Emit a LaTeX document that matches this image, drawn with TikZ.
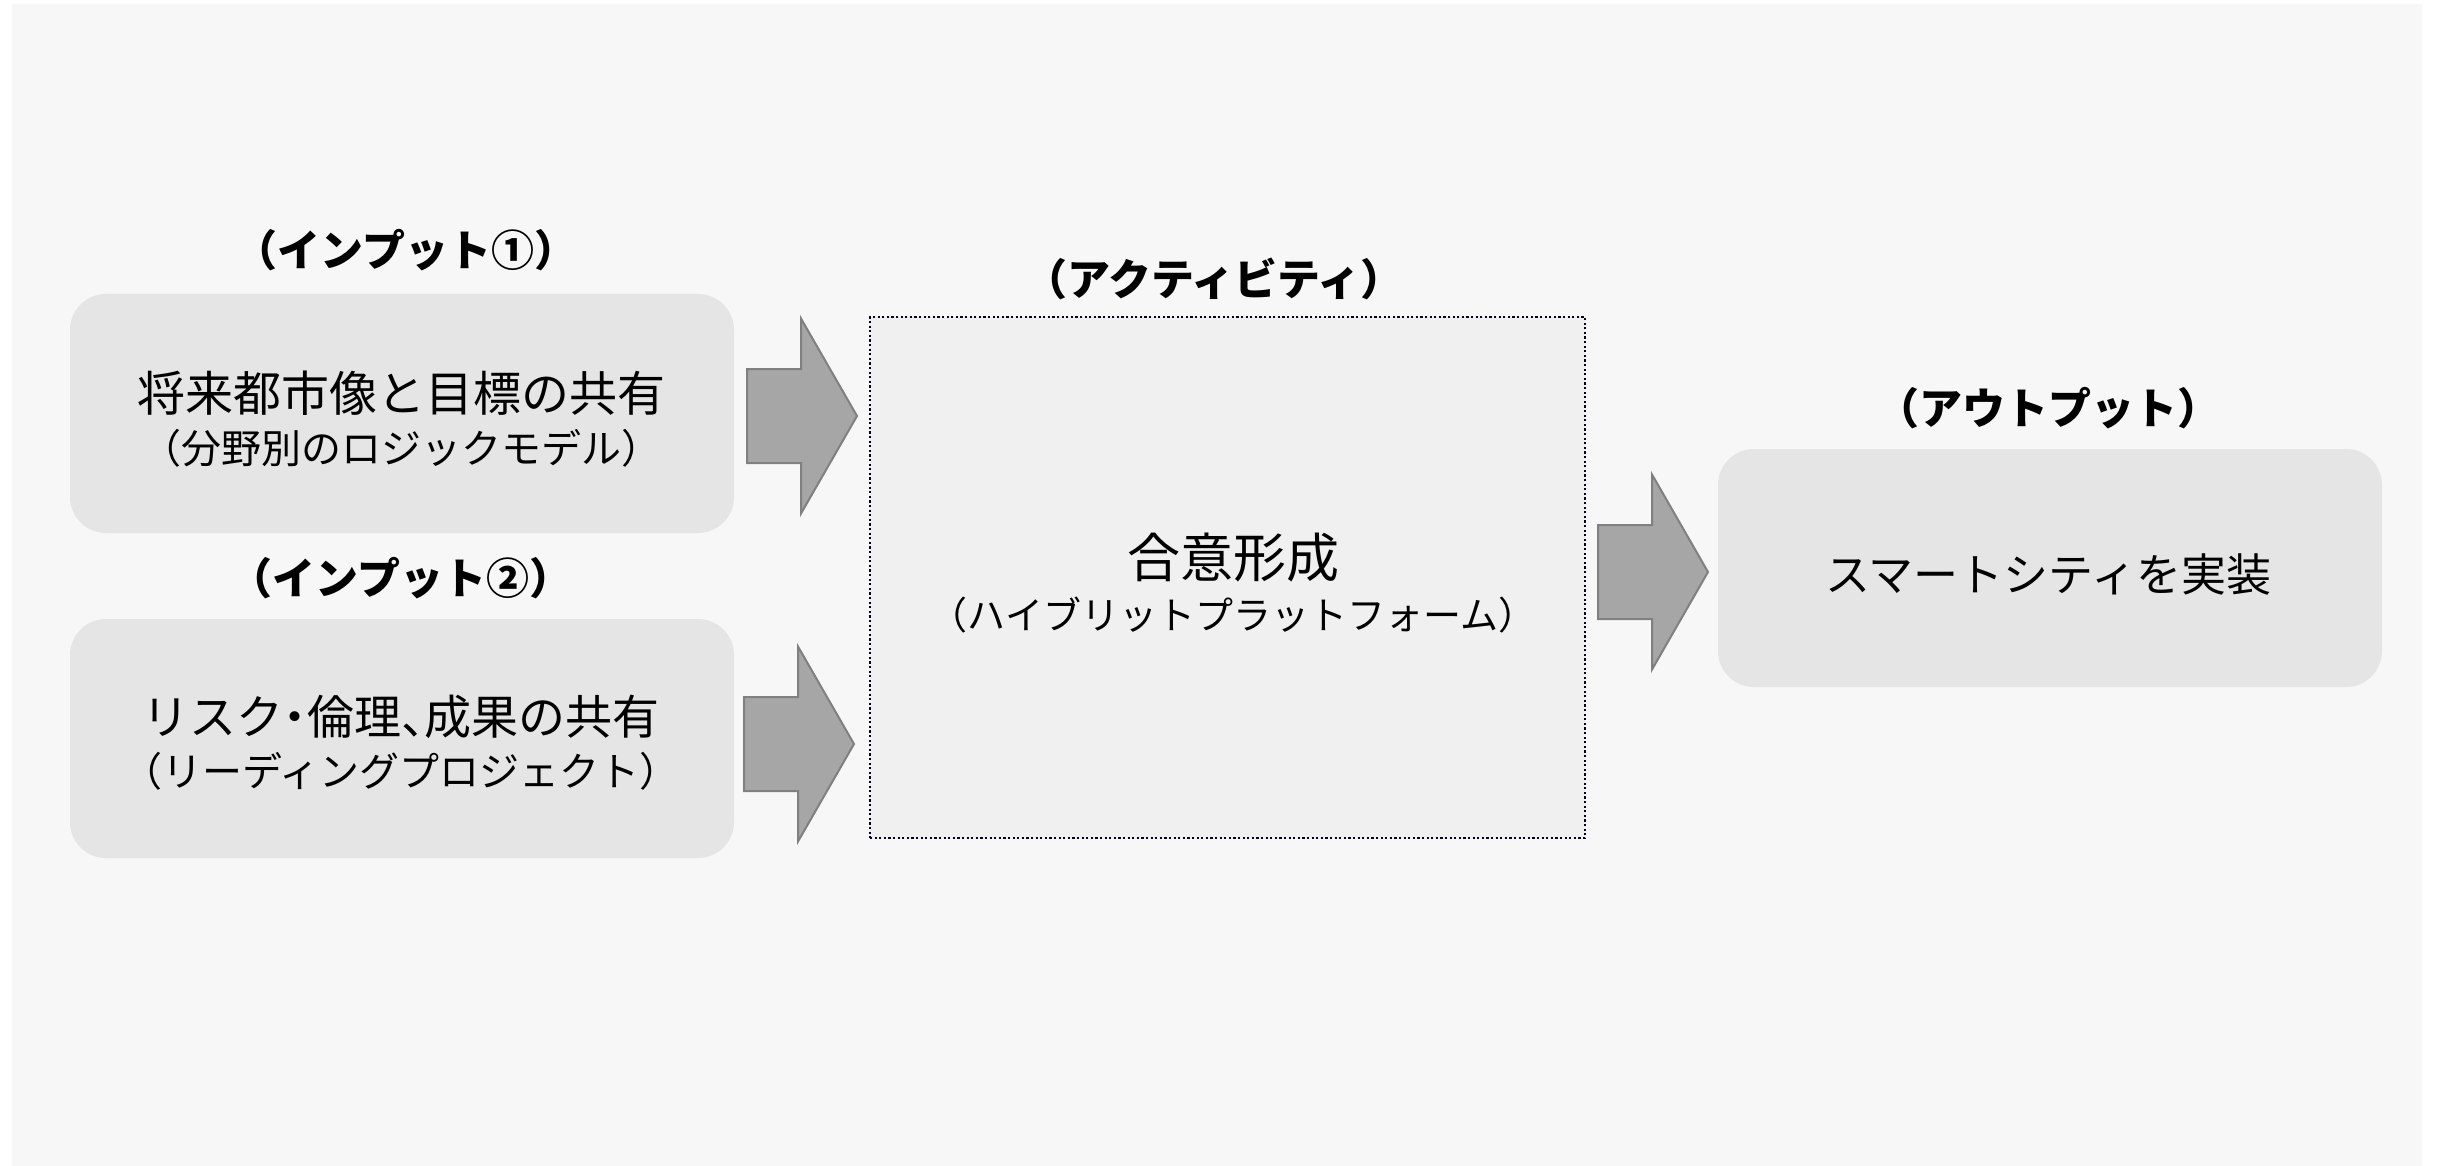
\documentclass[tikz,border=0pt]{standalone}
\usepackage{fontspec}
\setmainfont{Noto Sans CJK JP}
\begin{document}
\begin{tikzpicture}[x=1pt,y=-1pt,
  bgpanel/.style={fill=black!3, draw=none},
  inbox/.style={fill=black!10, draw=none, rounded corners=36pt},
  actbox/.style={fill=black!6, draw=black!85!blue, line width=2.2pt, dash pattern=on 2.2pt off 2.4pt},
  arrowstyle/.style={fill=black!35, draw=black!50, line width=2pt, line join=miter},
  hdr/.style={font=\bfseries\fontsize{43}{50}\selectfont, inner sep=0pt},
  maintxt/.style={font=\fontsize{48}{56}\selectfont, inner sep=0pt},
  bigtxt/.style={font=\fontsize{53}{60}\selectfont, inner sep=0pt},
  subtxt/.style={font=\fontsize{40}{48}\selectfont, inner sep=0pt},
  blockarrow/.pic={\draw[arrowstyle] (0,-47) -- (54,-47) -- (54,-97.5) -- (110,0) -- (54,97.5) -- (54,47) -- (0,47) -- cycle;}
]
\useasboundingbox (0,0) rectangle (2438,1166);
\fill[white] (0,0) rectangle (2438,1166);
\fill[bgpanel] (12,4) rectangle (2422,1166);

% input boxes
\node[inbox, minimum width=664pt, minimum height=239pt] (in1) at (402,413.5) {};
\node[inbox, minimum width=664pt, minimum height=239pt] (in2) at (402,738.5) {};
% activity box
\node[actbox, minimum width=715pt, minimum height=521pt] (act) at (1227.5,577.5) {};
% output box
\node[inbox, minimum width=664pt, minimum height=238pt] (out) at (2050,568) {};

% headers
\node[hdr] (h1) at (406,250) {（インプット①）};
\node[hdr] (h2) at (401,578) {（インプット②）};
\node[hdr] (h3) at (1214,279) {（アクティビティ）};
\node[hdr] (h4) at (2048,408) {（アウトプット）};

% texts
\node[maintxt] (t1a) at (401,393) {将来都市像と目標の共有};
\node[subtxt] (t1b) at (401,448) {（分野別のロジックモデル）};
\node[maintxt, font=\fontsize{47}{56}\selectfont] (t2a) at (401,717) {リスク\makebox[0.5em][c]{・}倫理\makebox[0.5em][l]{、}成果の共有};
\node[subtxt] (t2b) at (401,771) {（リーディングプロジェクト）};
\node[bigtxt] (t3a) at (1233,558) {合意形成};
\node[subtxt, font=\fontsize{38}{46}\selectfont] (t3b) at (1233,615) {（ハイブリットプラットフォーム）};
\node[maintxt, font=\fontsize{45}{54}\selectfont] (t4) at (2048,574) {スマートシティを実装};

% block arrows
\coordinate (a1) at (747,416);
\coordinate (a2) at (744,744);
\coordinate (a3) at (1598,572);
\pic at (a1) {blockarrow};
\pic at (a2) {blockarrow};
\pic at (a3) {blockarrow};
\end{tikzpicture}
\end{document}
